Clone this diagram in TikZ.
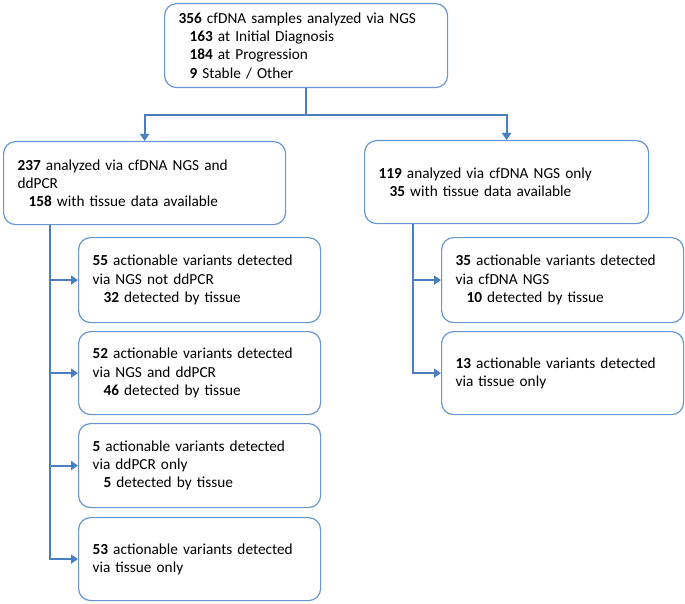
\documentclass[tikz,border=0pt]{standalone}
\usepackage{fontspec}
\setmainfont{Carlito}
\usepackage{xcolor}
\usepackage{tikz}
\usetikzlibrary{arrows.meta}
\definecolor{flowblue}{RGB}{74,126,189}
\definecolor{boxblue}{RGB}{104,150,210}
\newcommand{\indentline}{\hspace*{11pt}}

\begin{document}
\begin{tikzpicture}[x=1pt, y=-1pt,
        box/.style={draw=boxblue, line width=1.2pt, rounded corners=12pt, fill=white,
            anchor=north west, align=left, inner xsep=14pt, inner ysep=3pt,
            font=\fontsize{15.3}{18.3}\selectfont},
        link/.style={draw=flowblue, line width=1.8pt},
        >={Triangle[length=7pt,width=9pt]}]
        \useasboundingbox (0,0) rectangle (685,604);

        % Samples
        \node[box, text width=255pt, minimum height=84pt] (all) at (164,3)
            {\textbf{356} cfDNA samples analyzed via NGS\\
             \indentline\textbf{163} at Initial Diagnosis\\
             \indentline\textbf{184} at Progression\\
             \indentline\textbf{9} Stable / Other};

        % Two analysis groups
        \node[box, text width=254pt, minimum height=83pt] (both) at (3,141)
            {\textbf{237} analyzed via cfDNA NGS and\\
             ddPCR\\
             \indentline\textbf{158} with tissue data available};
        \node[box, text width=256pt, minimum height=83pt] (only) at (364,140)
            {\textbf{119} analyzed via cfDNA NGS only\\
             \indentline\textbf{35} with tissue data available};

        % Variants, NGS and ddPCR group
        \node[box, text width=214pt, minimum height=85pt] (l1) at (78,237)
            {\textbf{55} actionable variants detected\\
             via NGS not ddPCR\\
             \indentline\textbf{32} detected by tissue};
        \node[box, text width=214pt, minimum height=83pt] (l2) at (78,331)
            {\textbf{52} actionable variants detected\\
             via NGS and ddPCR\\
             \indentline\textbf{46} detected by tissue};
        \node[box, text width=214pt, minimum height=84pt] (l3) at (78,423)
            {\textbf{5} actionable variants detected\\
             via ddPCR only\\
             \indentline\textbf{5} detected by tissue};
        \node[box, text width=214pt, minimum height=83pt] (l4) at (78,517)
            {\textbf{53} actionable variants detected\\
             via tissue only};

        % Variants, NGS only group
        \node[box, text width=214pt, minimum height=85pt] (r1) at (441,237)
            {\textbf{35} actionable variants detected\\
             via cfDNA NGS\\
             \indentline\textbf{10} detected by tissue};
        \node[box, text width=214pt, minimum height=83pt] (r2) at (441,331)
            {\textbf{13} actionable variants detected\\
             via tissue only};

        % Split
        \coordinate (split) at ([yshift=-27pt]all.south);
        \draw[link] (all.south) -- (split);
        \draw[link, ->] (split) -| (both.north);
        \draw[link, ->] (split) -| (only.north);

        % Left trunk
        \coordinate (ltrunk) at ([xshift=47pt]both.south west);
        \draw[link, ->] (ltrunk) |- (l4.west);
        \draw[link, ->] (ltrunk |- l1.west) -- (l1.west);
        \draw[link, ->] (ltrunk |- l2.west) -- (l2.west);
        \draw[link, ->] (ltrunk |- l3.west) -- (l3.west);

        % Right trunk
        \coordinate (rtrunk) at ([xshift=49pt]only.south west);
        \draw[link, ->] (rtrunk) |- (r2.west);
        \draw[link, ->] (rtrunk |- r1.west) -- (r1.west);
    \end{tikzpicture}
\end{document}
